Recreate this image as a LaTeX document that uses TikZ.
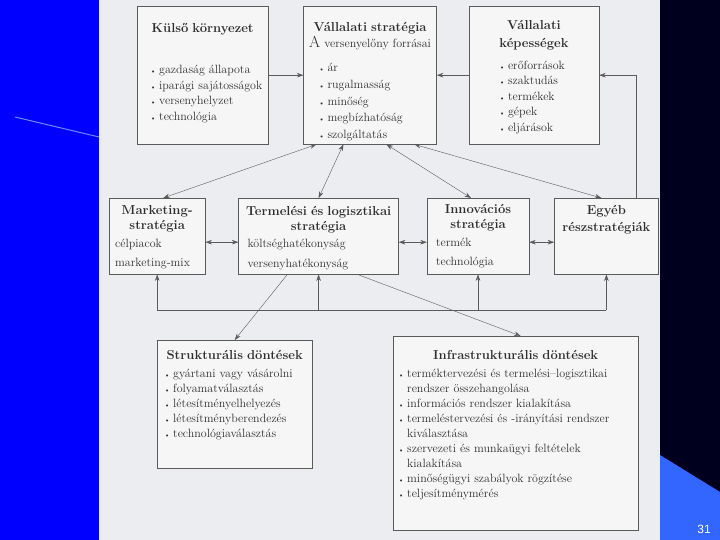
\documentclass[tikz,border=0pt]{standalone}
\usepackage{fontspec}
\usepackage{xcolor}
\usepackage{tikz}
\usetikzlibrary{arrows.meta, positioning}

\newfontfamily\szamfont{Liberation Sans}

\definecolor{lapszin}{HTML}{ECEDF1}
\definecolor{dobozszin}{HTML}{F6F6F7}
\definecolor{keret}{HTML}{5A5A5A}
\definecolor{betu}{HTML}{2E2E2E}
\definecolor{kek}{HTML}{0000FF}
\definecolor{sotetkek}{HTML}{00001E}
\definecolor{vilagoskek}{HTML}{3366FF}
\definecolor{vonalkek}{HTML}{6A8CFF}

\newcommand{\cim}[1]{{\centering\fontsize{13}{15}\selectfont\bfseries #1\par}}
\newcommand{\tetel}{\par\hangindent=9pt\hangafter=1\makebox[9pt][l]{\scriptsize\textbullet}}
\newcommand{\kitolt}[1]{\par\vspace{#1}\mbox{}}

\begin{document}
\begin{tikzpicture}[x=1pt, y=-1pt,
    doboz/.style={rectangle, draw=keret, fill=dobozszin, text=betu, inner sep=0pt, align=left, anchor=north west, font=\fontsize{12}{15.5}\selectfont},
    nyil/.style={-{Stealth[length=6.5pt, width=4.5pt]}, draw=keret, thin},
    kettos/.style={{Stealth[length=6.5pt, width=4.5pt]}-{Stealth[length=6.5pt, width=4.5pt]}, draw=keret, thin}
]
    % Background
    \useasboundingbox (0,0) rectangle (720,540);
    \fill[lapszin] (99,0) rectangle (660,540);
    \fill[kek] (0,0) rectangle (99,540);
    \fill[sotetkek] (660,0) rectangle (720,540);
    \fill[vilagoskek] (660,455) -- (720,492) -- (720,540) -- (660,540) -- cycle;
    \draw[vonalkek, line width=1pt] (15,117) -- (99,137);

    % Nodes - top row
    \node[doboz, text width=131pt, minimum height=138pt] (kulso) at (137,6) {
        \cim{Külső környezet}
        \vspace{26pt}\leftskip=13pt
        \tetel gazdaság állapota
        \tetel iparági sajátosságok
        \tetel versenyhelyzet
        \tetel technológia
        \kitolt{-8pt}};
    \node[doboz, text width=133pt, minimum height=138pt, right=35pt of kulso, font=\fontsize{12}{16.8}\selectfont] (vallstrat) {
        \cim{Vállalati stratégia}
        \vspace{-1pt}
        {\centering{\fontsize{16}{16}\selectfont A} versenyelőny forrásai\par}
        \vspace{7pt}\leftskip=15pt
        \tetel ár
        \tetel rugalmasság
        \tetel minőség
        \tetel megbízhatóság
        \tetel szolgáltatás
        \kitolt{-28pt}};
    \node[doboz, text width=130pt, minimum height=138pt, right=32pt of vallstrat] (kepessegek) {
        \cim{Vállalati\\[3pt]képességek}
        \vspace{6pt}\leftskip=30pt
        \tetel erőforrások
        \tetel szaktudás
        \tetel termékek
        \tetel gépek
        \tetel eljárások
        \kitolt{-17pt}};

    % Nodes - middle row
    \node[doboz, text width=96pt, minimum height=76pt] (mkt) at (109,198) {
        \cim{Marketing-\\stratégia}
        \vspace{2pt}\leftskip=6pt
        célpiacok\par\vspace{4pt}
        marketing-mix
        \kitolt{-16pt}};
    \node[doboz, text width=160pt, minimum height=76pt, right=33pt of mkt] (term) {
        \cim{Termelési és logisztikai\\stratégia}
        \vspace{2pt}\leftskip=9pt
        költséghatékonyság\par\vspace{4pt}
        versenyhatékonyság
        \kitolt{-16pt}};
    \node[doboz, text width=102pt, minimum height=76pt, right=28pt of term] (innov) {
        \cim{Innovációs\\stratégia}
        \vspace{2pt}\leftskip=9pt
        termék\par\vspace{4pt}
        technológia\par};
    \node[doboz, text width=104pt, minimum height=76pt, right=25pt of innov] (egyeb) {
        \cim{Egyéb\\[2pt]részstratégiák}
        \kitolt{21pt}};

    % Nodes - bottom row
    \node[doboz, text width=155pt, minimum height=128pt, font=\fontsize{12}{15}\selectfont] (strukt) at (157,340) {
        \cim{Strukturális döntések}
        \vspace{3pt}\leftskip=7pt
        \tetel gyártani vagy vásárolni
        \tetel folyamatválasztás
        \tetel létesítményelhelyezés
        \tetel létesítményberendezés
        \tetel technológiaválasztás
        \kitolt{5pt}};
    \node[doboz, text width=245pt, minimum height=194pt, font=\fontsize{12}{15}\selectfont] (infra) at (393,336) {
        \cim{Infrastrukturális döntések}
        \vspace{3pt}\leftskip=5pt
        \tetel terméktervezési és termelési–logisztikai\newline rendszer összehangolása
        \tetel információs rendszer kialakítása
        \tetel termeléstervezési és -irányítási rendszer\newline kiválasztása
        \tetel szervezeti és munkaügyi feltételek\newline kialakítása
        \tetel minőségügyi szabályok rögzítése
        \tetel teljesítménymérés
        \kitolt{3pt}};

    % Page number
    \node[text=white, font=\szamfont\fontsize{12}{12}\selectfont] (oldalszam) at (704,529) {31};

    % Arrows - top row
    \draw[nyil] (kulso) -- (vallstrat);
    \draw[nyil] (kepessegek) -- (vallstrat);
    \draw[nyil] ([xshift=-22pt]egyeb.north east) |- (kepessegek.east);

    % Arrows - strategy to sub-strategies
    \draw[kettos] ([xshift=13pt]vallstrat.south west) -- ([xshift=6pt]mkt.north);
    \draw[kettos] ([xshift=40pt]vallstrat.south west) -- (term.north);
    \draw[kettos] ([xshift=83pt]vallstrat.south west) -- ([xshift=-7pt]innov.north);
    \draw[kettos] ([xshift=111pt]vallstrat.south west) -- ([xshift=-5pt]egyeb.north);

    % Arrows - middle row
    \draw[kettos] ([yshift=-6pt]mkt.east) -- ([yshift=-6pt]term.west);
    \draw[kettos] ([yshift=-6pt]term.east) -- ([yshift=-6pt]innov.west);
    \draw[kettos] ([yshift=-6pt]innov.east) -- ([yshift=-6pt]egyeb.west);

    % Feedback line
    \coordinate (szint) at (0,310);
    \draw[keret, thin] (mkt.south |- szint) -- (egyeb.south |- szint);
    \draw[nyil] (mkt.south |- szint) -- (mkt.south);
    \draw[nyil] (term.south |- szint) -- (term.south);
    \draw[nyil] (innov.south |- szint) -- (innov.south);
    \draw[nyil] (egyeb.south |- szint) -- (egyeb.south);

    % Arrows - decisions
    \draw[nyil] ([xshift=49pt]term.south west) -- (strukt.north);
    \draw[nyil] ([xshift=119pt]term.south west) -- ([xshift=5pt]infra.north);
\end{tikzpicture}
\end{document}
